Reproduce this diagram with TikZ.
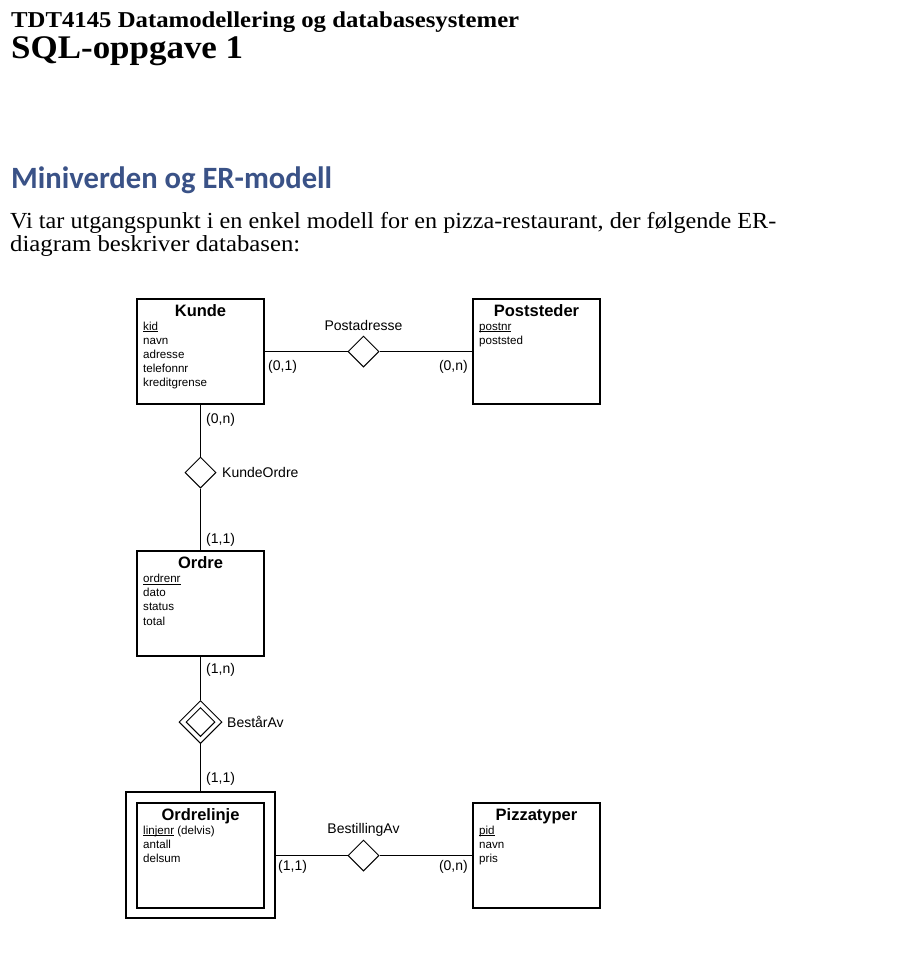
\documentclass[tikz,border=0pt]{standalone}
\usepackage{graphicx}
\usepackage{fontspec}
\setmainfont{Liberation Serif}
\setsansfont{Liberation Sans}
\newfontfamily\headfont{Carlito}
\usetikzlibrary{shapes.geometric}
\definecolor{headblue}{RGB}{58,82,135}
\newcommand{\keyu}[1]{\setbox0\hbox{#1}\rlap{\rule[-1.6pt]{\wd0}{0.6pt}}#1}
\begin{document}
\begin{tikzpicture}[x=1pt,y=-1pt,
  ent/.style={draw, line width=2pt, minimum width=127pt, minimum height=105pt, inner sep=0pt},
  rel/.style={diamond, draw, line width=1pt, minimum width=31pt, minimum height=31pt, inner sep=0pt, aspect=1},
  conn/.style={line width=1pt},
  lbl/.style={font=\sffamily\fontsize{14}{16}\selectfont, inner sep=0pt},
  etitle/.style={font=\sffamily\bfseries\fontsize{16.5}{18}\selectfont, inner sep=0pt, anchor=base},
  attr/.style={font=\sffamily\fontsize{11.6}{13}\selectfont, inner sep=0pt, anchor=base west},
  txt/.style={inner sep=0pt, anchor=base west},
]
\fill[white] (0,0) rectangle (906,954);
\useasboundingbox (0,0) rectangle (906,954);

% ---- document text ----
\node[txt] (t1) at (11,27.7) {\resizebox{508pt}{\height}{\fontsize{22.7}{26}\selectfont\bfseries TDT4145 Datamodellering og databasesystemer}};
\node[txt] (t2) at (11,58) {\resizebox{232pt}{\height}{\fontsize{33}{38}\selectfont\bfseries SQL-oppgave 1}};
\node[txt, text=headblue] (h1) at (11,188) {\resizebox{321pt}{\height}{\headfont\bfseries\fontsize{31}{36}\selectfont Miniverden og ER-modell}};
\node[txt] (p1) at (10,228.5) {\resizebox{766pt}{\height}{\fontsize{23}{27}\selectfont Vi tar utgangspunkt i en enkel modell for en pizza-restaurant, der følgende ER-}};
\node[txt] (p2) at (10,251.5) {\resizebox{290pt}{\height}{\fontsize{23}{27}\selectfont diagram beskriver databasen:}};

% ---- entities ----
\node[ent] (kunde) at (200.5,351.5) {};
\node[ent] (poststed) at (536.5,351.5) {};
\node[ent] (ordre) at (200.5,603.5) {};
\node[ent, minimum width=149pt, minimum height=126pt] (ordrelinje) at (200.5,855) {};
\node[ent] (ordrelinjein) at (200.5,855.5) {};
\node[ent] (pizza) at (536.5,855.5) {};

% ---- relationships ----
\node[rel] (postadr) at (363.5,351.5) {};
\node[rel] (kundeordre) at (200.5,472.5) {};
\node[rel, minimum width=43pt, minimum height=43pt] (bestaar) at (200.5,722) {};
\node[rel, minimum width=29pt, minimum height=29pt] (bestaarin) at (200.5,722) {};
\node[rel] (bestilling) at (363.5,855.5) {};

% ---- connectors ----
\draw[conn] (kunde.east) -- (postadr) -- (poststed.west);
\draw[conn] (kunde.south) -- (kundeordre) -- (ordre.north);
\draw[conn] (ordre.south) -- (bestaar) -- (ordrelinje.north);
\draw[conn] (bestilling -| ordrelinje.east) -- (bestilling) -- (pizza.west);

% ---- entity texts ----
\node[etitle] (kundeT) at (200.5,316.5) {Kunde};
\node[attr] (k1) at (143,330) {\keyu{kid}};
\node[attr] (k2) at (143,344.2) {navn};
\node[attr] (k3) at (143,358.4) {adresse};
\node[attr] (k4) at (143,372.6) {telefonnr};
\node[attr] (k5) at (143,386.8) {kreditgrense};

\node[etitle] (poststedT) at (536.5,316.5) {Poststeder};
\node[attr] (ps1) at (479,330) {\keyu{postnr}};
\node[attr] (ps2) at (479,344.2) {poststed};

\node[etitle] (ordreT) at (200.5,568.5) {Ordre};
\node[attr] (o1) at (143,582.5) {\keyu{ordrenr}};
\node[attr] (o2) at (143,596.7) {dato};
\node[attr] (o3) at (143,610.9) {status};
\node[attr] (o4) at (143,625.1) {total};

\node[etitle] (ordrelinjeT) at (200.5,820) {Ordrelinje};
\node[attr] (ol1) at (143,834) {\keyu{linjenr} (delvis)};
\node[attr] (ol2) at (143,848.2) {antall};
\node[attr] (ol3) at (143,862.4) {delsum};

\node[etitle] (pizzaT) at (536.5,820) {Pizzatyper};
\node[attr] (pz1) at (479,834) {\keyu{pid}};
\node[attr] (pz2) at (479,848.2) {navn};
\node[attr] (pz3) at (479,862.4) {pris};

% ---- relationship labels and cardinalities ----
\node[lbl, anchor=base] (postadrL) at (363.5,330) {Postadresse};
\node[lbl, anchor=base west] (c1) at (268,370.5) {(0,1)};
\node[lbl, anchor=base east] (c2) at (468,370.5) {(0,n)};
\node[lbl, anchor=base west] (c3) at (206,423) {(0,n)};
\node[lbl, anchor=base west] (kundeordreL) at (222,477.5) {KundeOrdre};
\node[lbl, anchor=base west] (c4) at (206,543.5) {(1,1)};
\node[lbl, anchor=base west] (c5) at (206,673) {(1,n)};
\node[lbl, anchor=base west] (bestaarL) at (227,727) {BestårAv};
\node[lbl, anchor=base west] (c6) at (206,782.5) {(1,1)};
\node[lbl, anchor=base] (bestillingL) at (363.5,833) {BestillingAv};
\node[lbl, anchor=base west] (c7) at (278,870) {(1,1)};
\node[lbl, anchor=base east] (c8) at (468,870) {(0,n)};
\end{tikzpicture}
\end{document}
